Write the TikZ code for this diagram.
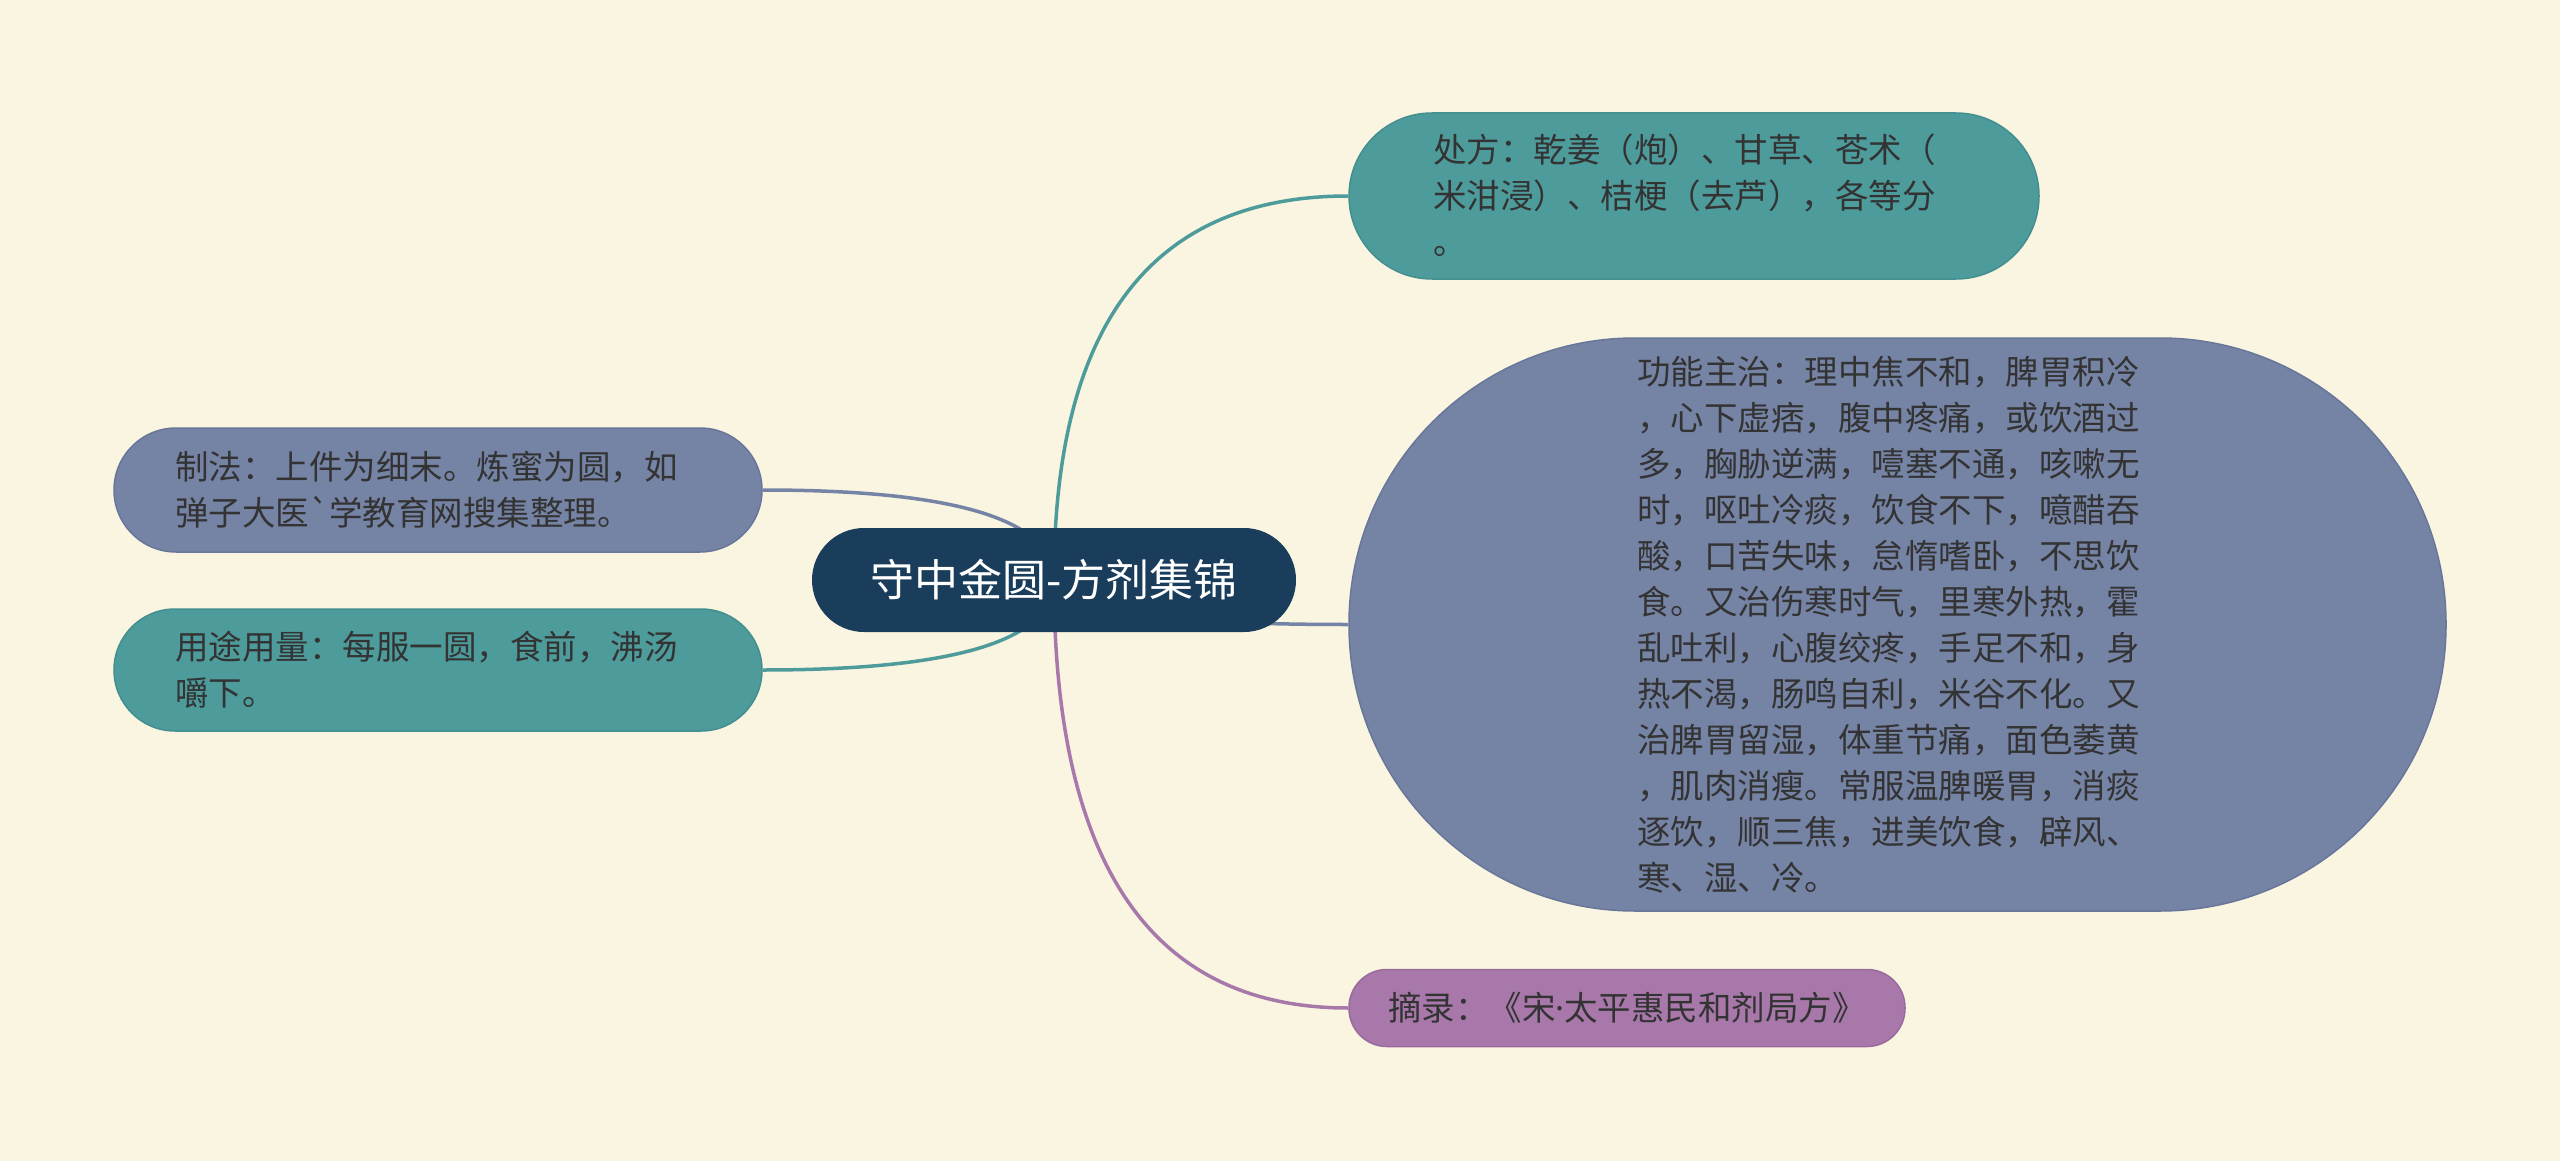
\documentclass[tikz,border=0pt]{standalone}
\usepackage{fontspec}
\newfontfamily\cjk{Noto Sans CJK SC}
\newfontfamily\latf{Noto Sans}
\usetikzlibrary{calc,backgrounds}
\definecolor{bgc}{HTML}{FAF5E1}
\definecolor{navy}{HTML}{1A3D5B}
\definecolor{tealA}{HTML}{4E9B9B}
\definecolor{tealD}{HTML}{438E8E}
\definecolor{slateA}{HTML}{7583A5}
\definecolor{slateD}{HTML}{68769A}
\definecolor{purpA}{HTML}{A878AA}
\definecolor{purpD}{HTML}{9A6A9C}
\definecolor{txt}{HTML}{333333}
\newcommand{\tb}{\rule[-0.12em]{0pt}{1em}}
\begin{document}
\begin{tikzpicture}[x=1pt,y=-1pt,
  leaf/.style={rectangle, inner xsep=0pt, inner ysep=0pt, align=left, text=txt,
    font=\cjk\fontsize{33.5}{46}\selectfont, line width=1.5pt},
  link/.style={line width=3.5pt}]
\useasboundingbox (0,0) rectangle (2560,1161);
\node[fill=navy, rounded corners=52pt, minimum width=484pt, minimum height=104pt,
  inner sep=0pt, text=white, font=\cjk\fontsize{44}{52}\selectfont] (root) at (1054,580) {守中金圆-方剂集锦};
\node[leaf, fill=tealA, draw=tealD, rounded corners=83pt, minimum width=690pt, minimum height=166pt,
  text width=522pt] (cf) at (1694,196)
  {\tb 处方：乾姜（炮）、甘草、苍术（\\米泔浸）、桔梗（去芦），各等分\\。\tb};
\node[leaf, fill=slateA, draw=slateD, rounded corners=286pt, minimum width=1097pt, minimum height=573pt,
  text width=521pt] (gn) at (1897.5,624.5)
  {\tb 功能主治：理中焦不和，脾胃积冷\\，心下虚痞，腹中疼痛，或饮酒过\\多，胸胁逆满，噎塞不通，咳嗽无\\时，呕吐冷痰，饮食不下，噫醋吞\\酸，口苦失味，怠惰嗜卧，不思饮\\食。又治伤寒时气，里寒外热，霍\\乱吐利，心腹绞疼，手足不和，身\\热不渴，肠鸣自利，米谷不化。又\\治脾胃留湿，体重节痛，面色萎黄\\，肌肉消瘦。常服温脾暖胃，消痰\\逐饮，顺三焦，进美饮食，辟风、\\寒、湿、冷。\tb};
\node[leaf, fill=slateA, draw=slateD, rounded corners=62pt, minimum width=648pt, minimum height=124pt,
  text width=526pt] (zf) at (438,490)
  {\tb 制法：上件为细末。炼蜜为圆，如\\弹子大医`学教育网搜集整理。\tb};
\node[leaf, fill=tealA, draw=tealD, rounded corners=61pt, minimum width=648pt, minimum height=122pt,
  text width=526pt] (yt) at (438,670)
  {\tb 用途用量：每服一圆，食前，沸汤\\嚼下。\tb};
\node[leaf, fill=purpA, draw=purpD, rounded corners=38pt, minimum width=556pt, minimum height=77pt,
  text width=478pt] (zl) at (1627,1008)
  {\tb 摘录：《宋{\latf ·}太平惠民和剂局方》\tb};
\begin{scope}[on background layer]
\fill[bgc] (0,0) rectangle (2560,1161);
\draw[link, tealA] (root.center) .. controls ($(root.center)!2/3!(root.center |- cf.west)$) and ($(cf.west)!2/3!(root.center |- cf.west)$) .. (cf.west);
\draw[link, slateA] (root.center) .. controls ($(root.center)!2/3!(root.center |- gn.west)$) and ($(gn.west)!2/3!(root.center |- gn.west)$) .. (gn.west);
\draw[link, purpA] (root.center) .. controls ($(root.center)!2/3!(root.center |- zl.west)$) and ($(zl.west)!2/3!(root.center |- zl.west)$) .. (zl.west);
\draw[link, slateA] (root.center) .. controls ($(root.center)!2/3!(root.center |- zf.east)$) and ($(zf.east)!2/3!(root.center |- zf.east)$) .. (zf.east);
\draw[link, tealA] (root.center) .. controls ($(root.center)!2/3!(root.center |- yt.east)$) and ($(yt.east)!2/3!(root.center |- yt.east)$) .. (yt.east);
\end{scope}
\end{tikzpicture}
\end{document}
